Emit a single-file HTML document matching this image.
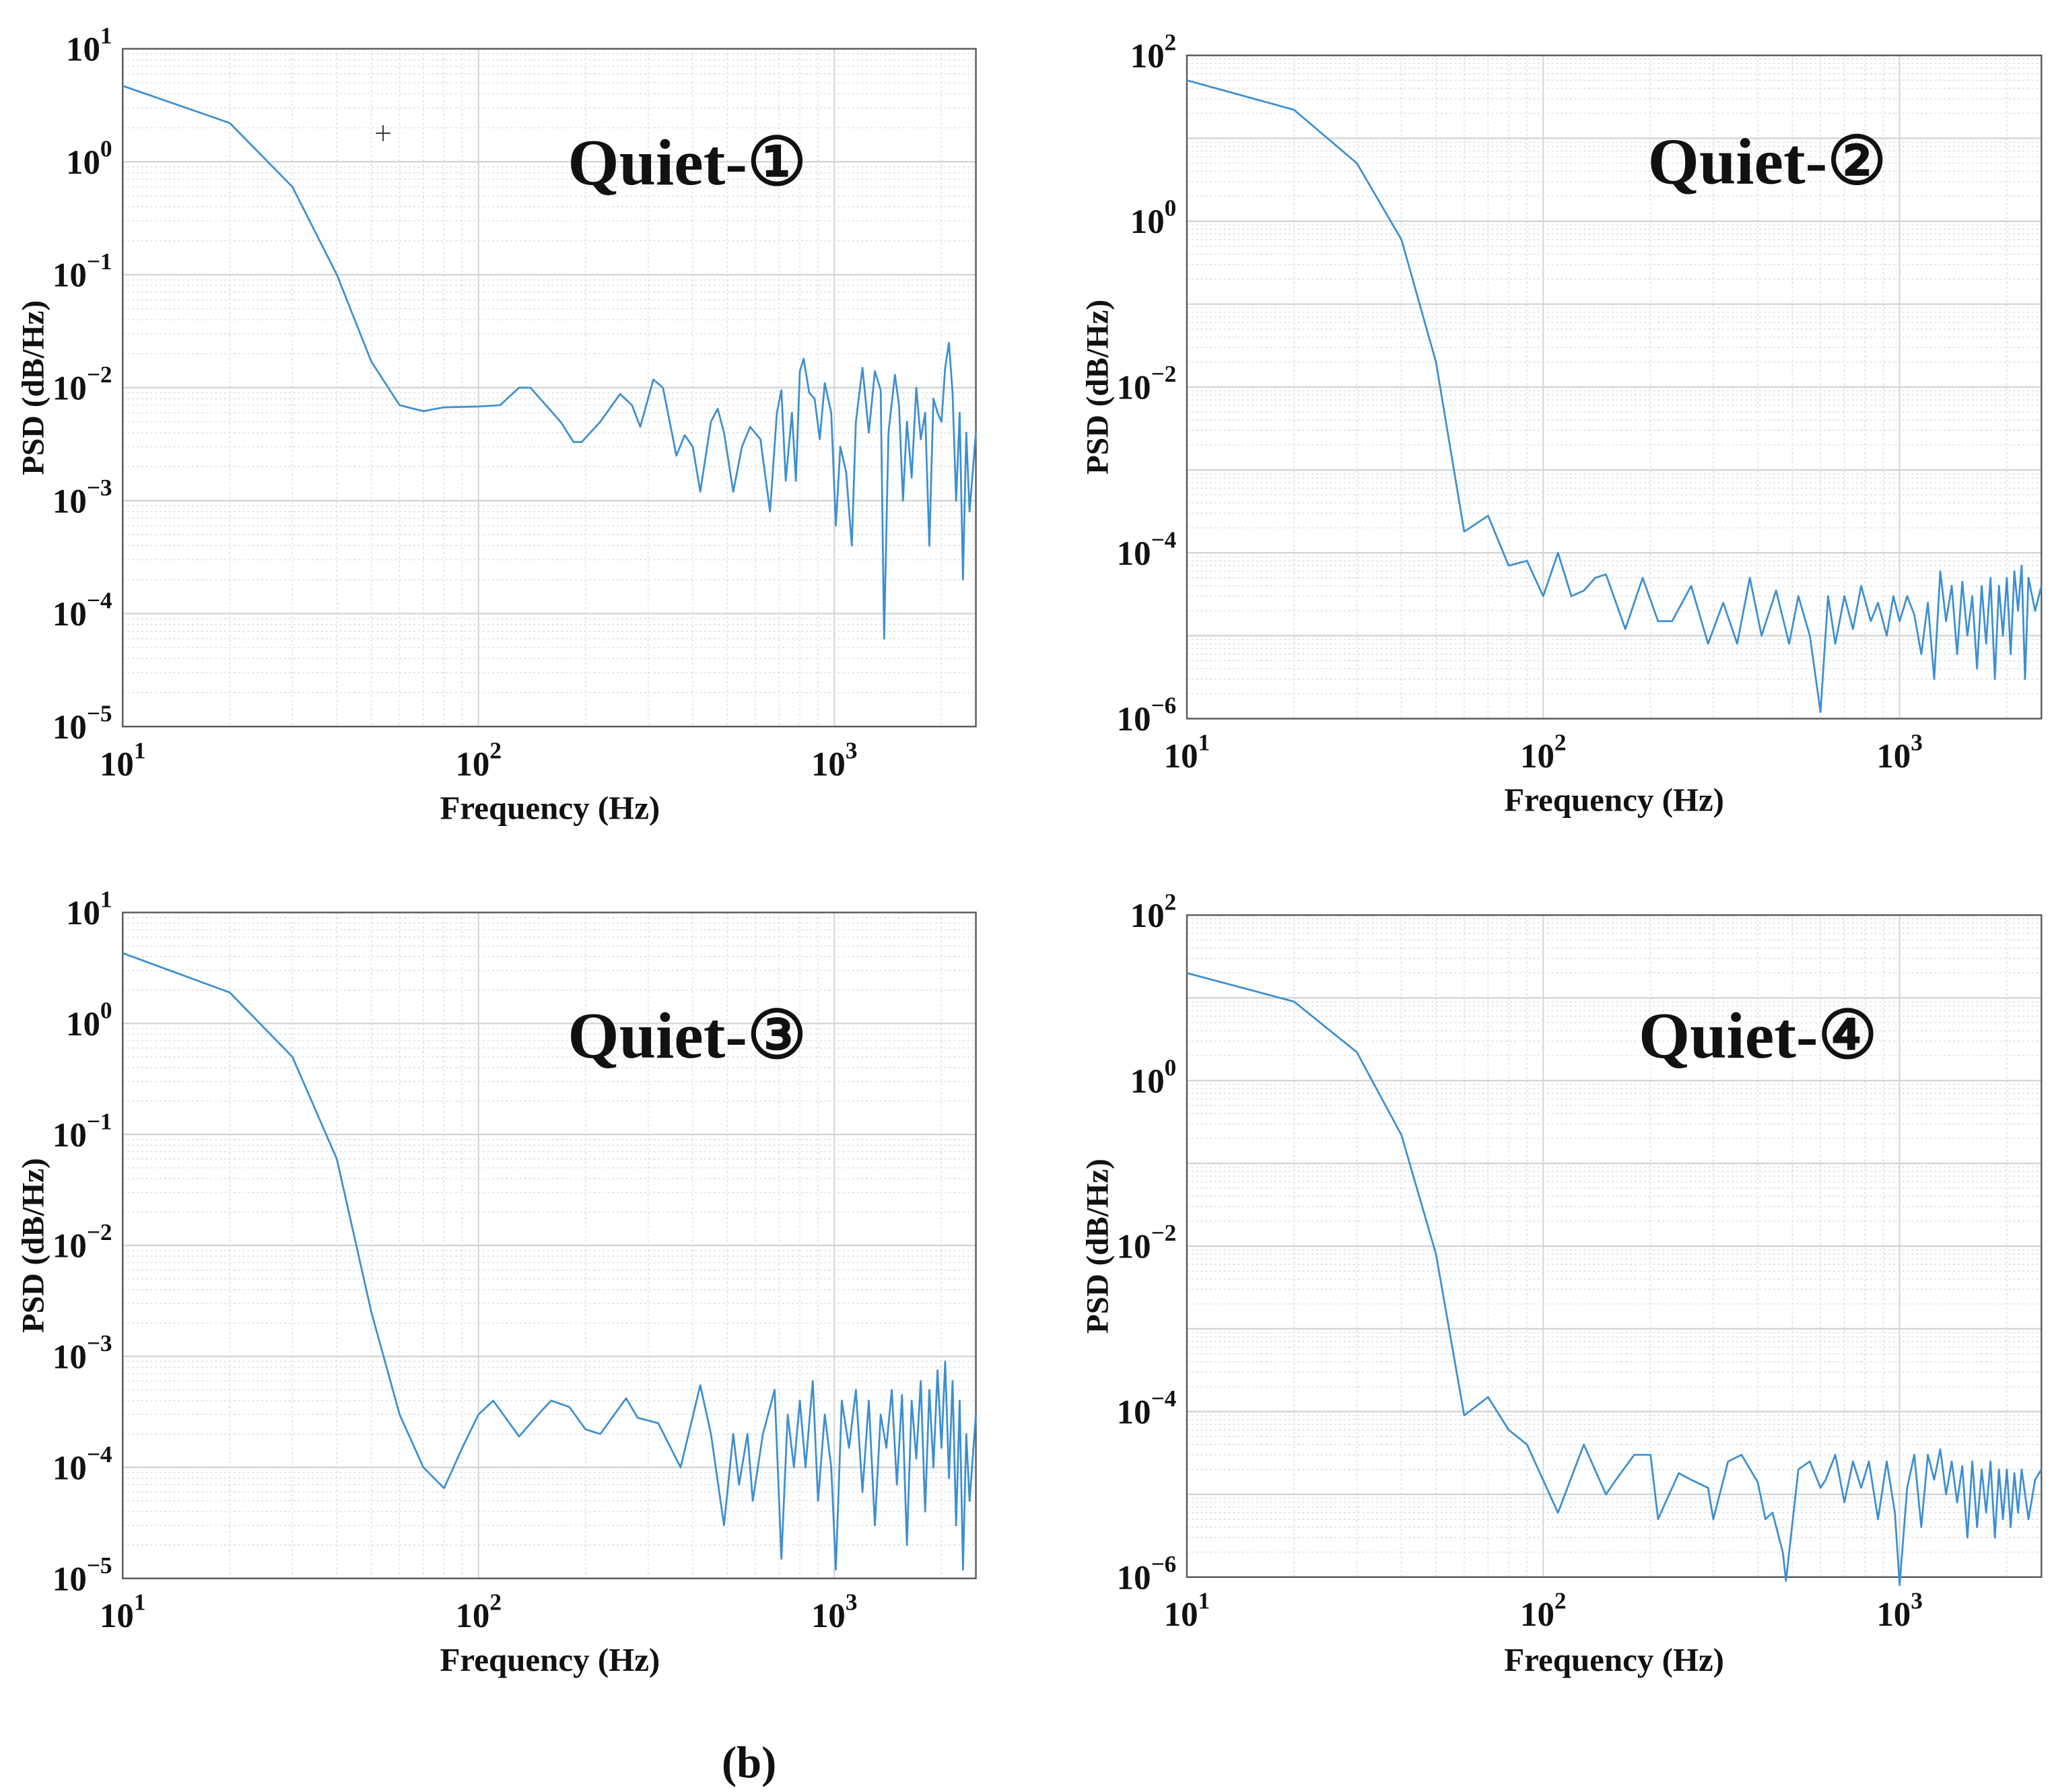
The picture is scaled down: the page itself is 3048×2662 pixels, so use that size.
<!DOCTYPE html>
<html><head><meta charset="utf-8"><style>
html,body{margin:0;padding:0;background:#fff}
svg{display:block}
text{font-family:"Liberation Serif",serif;font-weight:bold;fill:#111}
</style></head><body>
<svg id="fig" width="3048" height="2662" viewBox="0 0 1556 1359" xmlns="http://www.w3.org/2000/svg">
<text x="568" y="1348" font-size="34" text-anchor="middle">(b)</text>
</svg>
<script>
const p1Freq=[10,20,30,40,50,60,70,80,100,115,130,140,170,185,195,220,250,270,285,310,330,360,380,400,420,450,470,490,520,550,580,620,660,690,710,730,760,780,800,820,850,880,910,940,980,1010,1040,1080,1120,1150,1200,1250,1300,1350,1380,1420,1480,1520,1560,1600,1650,1700,1750,1800,1850,1900,1950,2000,2050,2100,2150,2200,2250,2300,2350,2400,2500];
const p1Vals=[4.7,2.2,0.6,0.1,0.017,0.007,0.0062,0.0067,0.0068,0.007,0.01,0.01,0.005,0.0033,0.0033,0.005,0.0088,0.007,0.0045,0.0118,0.01,0.0025,0.0038,0.003,0.0012,0.005,0.0065,0.004,0.0012,0.003,0.0045,0.0035,0.0008,0.006,0.0095,0.0015,0.006,0.0015,0.014,0.018,0.009,0.008,0.0035,0.011,0.006,0.0006,0.003,0.0018,0.0004,0.005,0.015,0.004,0.014,0.0095,0.00006,0.004,0.013,0.007,0.001,0.005,0.0016,0.01,0.0035,0.006,0.0004,0.008,0.006,0.005,0.015,0.025,0.009,0.001,0.006,0.0002,0.004,0.0008,0.004];
const p2Freq=[10,20,30,40,50,60,70,80,90,100,110,120,130,140,150,170,190,210,230,260,290,320,350,380,410,450,490,520,560,600,630,660,700,740,780,830,870,920,960,1000,1050,1100,1150,1200,1250,1300,1350,1400,1450,1500,1550,1600,1650,1700,1750,1800,1850,1900,1950,2000,2050,2100,2150,2200,2250,2300,2400,2500];
const p2Vals=[50,22,5,0.6,0.02,0.00018,0.00028,0.00007,0.00008,0.00003,0.0001,0.00003,0.000035,0.00005,0.000055,0.000012,0.00005,0.000015,0.000015,0.00004,0.000008,0.000025,0.000008,0.00005,0.00001,0.000035,0.000008,0.00003,0.00001,0.0000012,0.00003,0.000008,0.00003,0.000012,0.00004,0.000015,0.000025,0.00001,0.00003,0.000015,0.00003,0.000018,0.000006,0.000025,0.000003,0.00006,0.000015,0.00004,0.000006,0.000045,0.00001,0.00003,0.000004,0.00004,0.000008,0.00005,0.000003,0.00004,0.00001,0.00005,0.000006,0.00006,0.00002,0.00007,0.000003,0.00005,0.00002,0.00004];
const p3Freq=[10,20,30,40,50,60,70,80,90,100,110,130,150,160,180,200,220,260,280,320,370,420,450,490,520,540,570,590,630,680,710,740,770,800,830,870,900,940,980,1010,1050,1100,1150,1200,1250,1300,1350,1400,1450,1500,1550,1600,1650,1700,1750,1800,1850,1900,1950,2000,2050,2100,2150,2200,2250,2300,2350,2400,2500];
const p3Vals=[4.3,1.9,0.5,0.06,0.0025,0.0003,0.0001,0.000065,0.00015,0.0003,0.0004,0.00019,0.00032,0.0004,0.00035,0.00022,0.0002,0.00042,0.00028,0.00025,0.0001,0.00055,0.0002,0.00003,0.0002,0.00007,0.0002,0.00005,0.0002,0.0005,0.000015,0.0003,0.0001,0.0004,0.0001,0.0006,0.00005,0.0003,0.0001,0.000012,0.0004,0.00015,0.0005,0.00006,0.0004,0.00003,0.0003,0.00015,0.0005,0.00007,0.00045,0.00002,0.0004,0.00012,0.0006,0.00004,0.0005,0.0001,0.00075,0.00015,0.0009,0.00008,0.0006,0.00003,0.0004,0.000012,0.0002,0.00005,0.0003];
const p4Freq=[10,20,30,40,50,60,70,80,90,110,130,150,160,180,200,210,240,260,290,300,330,360,400,420,440,470,480,520,560,600,620,660,700,740,780,820,870,920,970,1000,1050,1100,1150,1200,1250,1300,1350,1400,1450,1500,1550,1600,1650,1700,1750,1800,1850,1900,1950,2000,2050,2100,2150,2200,2300,2400,2500];
const p4Vals=[20,9,2.2,0.22,0.008,0.00009,0.00015,0.00006,0.00004,0.000006,0.00004,0.00001,0.000015,0.00003,0.00003,0.000005,0.000018,0.000015,0.000012,0.000005,0.000025,0.00003,0.000014,0.000005,0.000006,0.000002,0.0000009,0.00002,0.000025,0.000012,0.000015,0.00003,0.000008,0.000025,0.000012,0.000025,0.000005,0.000025,0.000006,0.0000008,0.000012,0.00003,0.000004,0.00003,0.000015,0.000035,0.00001,0.000025,0.000008,0.000022,0.000003,0.000025,0.000004,0.00002,0.000006,0.000025,0.000003,0.00002,0.000005,0.00002,0.000004,0.000018,0.000006,0.00002,0.000005,0.000015,0.00002];
const titles=["Quiet-①","Quiet-②","Quiet-③","Quiet-④"];
const yTicks1=[1,0,-1,-2,-3,-4,-5];
const yTicks2=[2,0,-2,-4,-6];
const xTicks=[1,2,3];

const NS="http://www.w3.org/2000/svg";
const svg=document.getElementById('fig');
function mk(tag,attrs,parent){const e=document.createElementNS(NS,tag);for(const k in attrs)e.setAttribute(k,attrs[k]);(parent||svg).appendChild(e);return e;}

const panels=[
 {L:93,R:740,T:37,B:551,ymax:1,ymin:-5,ticks:yTicks1,f:p1Freq,v:p1Vals,tx:521,ty:140,xl:417,xly:621,yl:25,name:'panel-quiet-1'},
 {L:900,R:1548,T:42,B:545,ymax:2,ymin:-6,ticks:yTicks2,f:p2Freq,v:p2Vals,tx:1340,ty:139,xl:1224,xly:615,yl:832,name:'panel-quiet-2'},
 {L:93,R:740,T:692,B:1197,ymax:1,ymin:-5,ticks:yTicks1,f:p3Freq,v:p3Vals,tx:521,ty:802,xl:417,xly:1267,yl:25,name:'panel-quiet-3'},
 {L:900,R:1548,T:694,B:1196,ymax:2,ymin:-6,ticks:yTicks2,f:p4Freq,v:p4Vals,tx:1333,ty:802,xl:1224,xly:1267,yl:832,name:'panel-quiet-4'}
];
const xmin=1,xmax=Math.log10(2500);
panels.forEach((p,i)=>{
 const g=mk('g',{});
 
 
 const X=f=>p.L+(Math.log10(f)-xmin)/(xmax-xmin)*(p.R-p.L);
 const Y=v=>p.T+(p.ymax-Math.log10(v))/(p.ymax-p.ymin)*(p.B-p.T);
 const grid=mk('g',{},g);
 
 
 for(let d=1;d<=3;d++)for(let m=1;m<10;m++){const f=m*Math.pow(10,d);if(f>2500)break;const x=X(f);
  mk('line',{x1:x,x2:x,y1:p.T,y2:p.B,stroke:m==1?'#d4d4d4':'#dedede','stroke-width':m==1?1:0.8,'stroke-dasharray':m==1?'':'1.5,2'},grid);}
 for(let d=p.ymin;d<p.ymax;d++)for(let m=1;m<10;m++){const v=m*Math.pow(10,d);const y=Y(v);
  mk('line',{x1:p.L,x2:p.R,y1:y,y2:y,stroke:m==1?'#d4d4d4':'#dedede','stroke-width':m==1?1.2:0.8,'stroke-dasharray':m==1?'':'1.5,2'},grid);}
 const fr=mk('rect',{x:p.L,y:p.T,width:p.R-p.L,height:p.B-p.T,fill:'none',stroke:'#555','stroke-width':1.2},g);
 
 
 let d='';p.f.forEach((f,k)=>{d+=(k?'L':'M')+X(f).toFixed(1)+','+Y(p.v[k]).toFixed(1);});
 const ln=mk('path',{d:d,fill:'none',stroke:'#3d8fd0','stroke-width':1.4,'stroke-linejoin':'round'},g);
 
 
 p.ticks.forEach(t=>{const y=Y(Math.pow(10,t));
  const tx=mk('text',{x:p.L-8,y:y+9,'font-size':26,'text-anchor':'end'},g);
  
  
  tx.textContent='10';
  const s=mk('tspan',{dy:-13,'font-size':18},tx);s.textContent=t<0?'−'+(-t):String(t);
 });
 xTicks.forEach(t=>{const x=X(Math.pow(10,t));
  const tx=mk('text',{x:x,y:p.B+37,'font-size':26,'text-anchor':'middle'},g);
  
  
  tx.textContent='10';
  const s=mk('tspan',{dy:-13,'font-size':18},tx);s.textContent=String(t);
 });
 const xt=mk('text',{x:p.xl,y:p.xly,'font-size':25,'text-anchor':'middle',fill:'#333'},g);
 
 
 xt.textContent='Frequency (Hz)';
 const cy=(p.T+p.B)/2;
 const yt=mk('text',{x:p.yl+8,y:cy,'font-size':24,'text-anchor':'middle',fill:'#333',transform:`rotate(-90 ${p.yl+8} ${cy})`},g);
 
 
 yt.textContent='PSD (dB/Hz)';
 const tt=mk('text',{x:p.tx,y:p.ty,'font-size':50,'text-anchor':'middle',fill:'#000'},g);
 
 
 tt.textContent=titles[i];
});
const cur=mk('g',{stroke:'#333','stroke-width':1});


mk('line',{x1:285,x2:296,y1:101,y2:101},cur);mk('line',{x1:290.5,x2:290.5,y1:95,y2:107},cur);
</script>
</body></html>
